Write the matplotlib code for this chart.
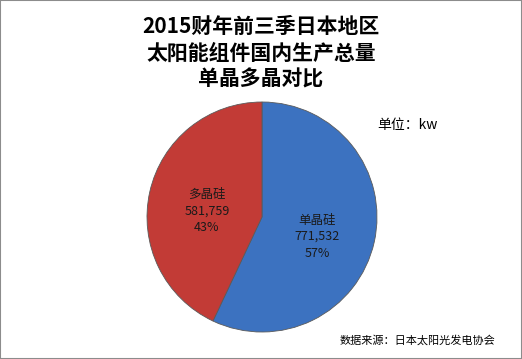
import matplotlib.pyplot as plt
from matplotlib.patches import Rectangle

plt.rcParams['font.family'] = ['Noto Sans CJK SC', 'DejaVu Sans']

# data
categories = ['单晶硅', '多晶硅']
values = [771532, 581759]
colors = ['#3c72c0', '#c23b36']
title = '2015财年前三季日本地区\n太阳能组件国内生产总量\n单晶多晶对比'

W, H = 522, 359
fig = plt.figure(figsize=(W / 100, H / 100), dpi=100)
fig.patches.append(Rectangle((0, 0), 1, 1, transform=fig.transFigure,
                             fill=False, edgecolor='#8c8c8c', linewidth=1.5))

# pie axes: center (262, 217) px, radius 115 px
cx, cy, r = 262, 217, 115
ax = fig.add_axes([(cx - r) / W, (H - cy - r) / H, 2 * r / W, 2 * r / H])
total = sum(values)
wedges, _ = ax.pie(values, colors=colors, startangle=90, counterclock=False,
                   wedgeprops=dict(edgecolor='#5a5a5a', linewidth=0.6))
ax.set_xlim(-1, 1)
ax.set_ylim(-1, 1)
ax.set_aspect('auto')

# slice labels (placed in data coords of the pie)
label_pos = [(0.48, -0.17), (-0.48, 0.05)]
for (x, y), cat, v in zip(label_pos, categories, values):
    pct = round(v / total * 100)
    ax.text(x, y, f'{cat}\n{v:,}\n{pct}%', ha='center', va='center',
            fontsize=9, color='#1a1a1a', linespacing=1.35)

fig.text(0.5, 1 - 53 / H, title, ha='center', va='center', fontsize=15,
         fontweight='bold', linespacing=1.3)
fig.text(377 / W, 1 - 125 / H, '单位：kw', ha='left', va='center', fontsize=10)
fig.text(340 / W, 1 - 340 / H, '数据来源：日本太阳光发电协会', ha='left',
         va='center', fontsize=8)

fig.savefig('out.png', dpi=100)
